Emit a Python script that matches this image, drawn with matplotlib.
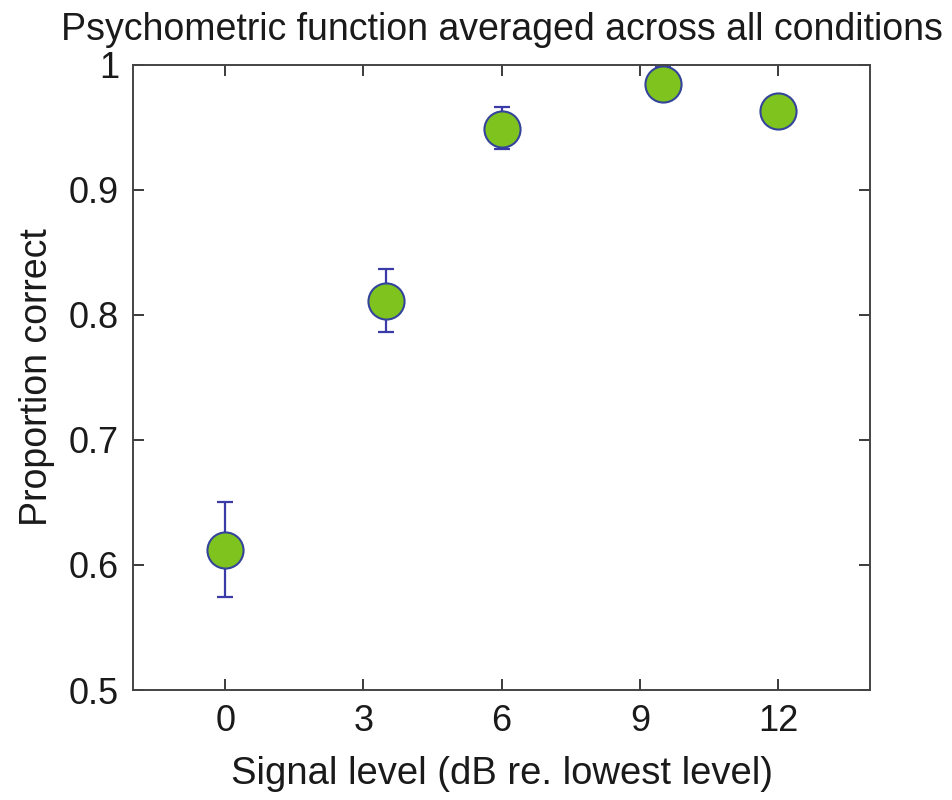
import matplotlib
matplotlib.use("Agg")
import matplotlib.pyplot as plt

# values
signal_level = [0, 3.5, 6, 9.5, 12]
prop_correct = [0.612, 0.811, 0.949, 0.985, 0.963]
err_low = [0.038, 0.025, 0.016, 0.013, 0.010]
err_high = [0.038, 0.026, 0.017, 0.013, 0.010]
x_ticks = [0, 3, 6, 9, 12]
y_ticks = [0.5, 0.6, 0.7, 0.8, 0.9, 1.0]
y_tick_labels = ["0.5", "0.6", "0.7", "0.8", "0.9", "1"]

plt.rcParams['font.family'] = ['Liberation Sans', 'DejaVu Sans']

fig = plt.figure(figsize=(9.53, 8.0), dpi=100)
ax = fig.add_axes([0.1396, 0.1375, 0.7735, 0.7815])

ax.errorbar(signal_level, prop_correct, yerr=[err_low, err_high],
            fmt='none', ecolor='#3a3aa8', elinewidth=1.6, capsize=6, capthick=1.6)
ax.plot(signal_level, prop_correct, 'o', markersize=26,
        markerfacecolor='#7fc31f', markeredgecolor='#34449a', markeredgewidth=1.5)

ax.set_xlim(-2, 14)
ax.set_ylim(0.5, 1.0)
ax.set_xticks(x_ticks)
ax.set_yticks(y_ticks)
ax.set_yticklabels(y_tick_labels)
ax.tick_params(direction='in', length=8, width=1.2, top=True, right=True,
               labelsize=26, colors='#1a1a1a', pad=10)
for s in ax.spines.values():
    s.set_linewidth(1.4)
    s.set_color('#444444')

ax.set_xlabel("Signal level (dB re. lowest level)", fontsize=27.5, labelpad=12,
              color='#1a1a1a')
ax.set_ylabel("Proportion correct", fontsize=27, labelpad=10, color='#1a1a1a')
ax.set_title("Psychometric function averaged across all conditions", fontsize=27,
             pad=18, color='#1a1a1a')

fig.savefig("out.png", dpi=100)
